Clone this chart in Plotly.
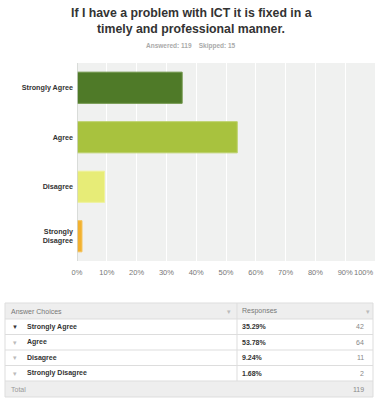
import plotly.graph_objects as go

categories = ["Strongly Agree", "Agree", "Disagree", "Strongly Disagree"]
axis_labels = ["Strongly Agree", "Agree", "Disagree", "Strongly<br>Disagree"]
percentages = [35.29, 53.78, 9.24, 1.68]
counts = [42, 64, 11, 2]
answered = 119
skipped = 15
total = 119
tick_vals = [0, 10, 20, 30, 40, 50, 60, 70, 80, 90]
tick_text = [f"{v}%" for v in tick_vals]
last_tick = 100
title_lines = ["If I have a problem with ICT it is fixed in a", "timely and professional manner."]
colors = ["#4F7A28", "#A8C23E", "#E7EC77", "#F2B12F"]
border = ["#6E9447", "#BCD16A", "#EFF29C", "#F5C561"]

W, H = 375, 399
def px(x): return x / W
def py(y): return 1 - y / H

fig = go.Figure()
fig.add_trace(go.Bar(
    x=percentages, y=axis_labels, orientation="h",
    marker=dict(color=colors, line=dict(color=border, width=1)),
    width=0.63, hoverinfo="skip"))

FONT = "Liberation Sans, Arial, sans-serif"

fig.update_layout(
    width=W, height=H, margin=dict(l=0, r=0, t=0, b=0, pad=0),
    paper_bgcolor="white", plot_bgcolor="#F0F1F0",
    showlegend=False, font=dict(family=FONT),
    xaxis=dict(domain=[px(77), 1], range=[0, 100], tickvals=tick_vals,
               ticktext=tick_text, showgrid=True, gridcolor="white", gridwidth=1,
               zeroline=False, showline=False, ticks="", automargin=False,
               ticklabelstandoff=5,
               tickfont=dict(size=7.5, color="#777", family=FONT), fixedrange=True),
    yaxis=dict(domain=[py(261), py(63)], autorange="reversed",
               tickvals=axis_labels, ticktext=[f"<b>{t}</b>" for t in axis_labels],
               showgrid=False, zeroline=False, showline=False, ticks="", automargin=False,
               tickfont=dict(size=7.2, color="#333", family=FONT),
               ticklabelstandoff=3, fixedrange=True),
)
fig.add_shape(type="line", xref="x", yref="paper", x0=0, x1=0,
              y0=py(261), y1=py(63), line=dict(color="#D2D4D2", width=1.5))

ann = []
ann.append(dict(x=last_tick, y=py(272), xref="x", yref="paper", text=f"{last_tick}%",
                showarrow=False, font=dict(size=7.5, color="#777", family=FONT),
                xanchor="right", yanchor="middle", xshift=1))
for ln, yy in zip(title_lines, [13, 29]):
    ann.append(dict(x=px(191), y=py(yy), xref="paper", yref="paper",
                    text=f"<b>{ln}</b>", showarrow=False,
                    font=dict(size=12.3, color="#333", family=FONT),
                    xanchor="center", yanchor="middle"))
ann.append(dict(x=px(191), y=py(46), xref="paper", yref="paper",
                text=f"<b>Answered: {answered}    Skipped: {skipped}</b>",
                showarrow=False, font=dict(size=6.5, color="#AAA", family=FONT),
                xanchor="center", yanchor="middle"))

# table
tx0, tx1, tdiv = 5, 373, 237
ty_head0, ty_head1 = 303, 319
row_h = 15.5
shapes = []
shapes.append(dict(type="rect", xref="paper", yref="paper", x0=px(tx0), x1=px(tx1),
                   y0=py(ty_head0), y1=py(ty_head1), fillcolor="#EEEEEE",
                   line=dict(width=0), layer="below"))
n = len(categories)
ty_tot0 = ty_head1 + row_h * n
ty_tot1 = ty_tot0 + 16
shapes.append(dict(type="rect", xref="paper", yref="paper", x0=px(tx0), x1=px(tx1),
                   y0=py(ty_tot0), y1=py(ty_tot1), fillcolor="#EEEEEE",
                   line=dict(width=0), layer="below"))
shapes.append(dict(type="rect", xref="paper", yref="paper", x0=px(tx0), x1=px(tx1),
                   y0=py(ty_head0), y1=py(ty_tot1), line=dict(color="#DDDDDD", width=1)))
shapes.append(dict(type="line", xref="paper", yref="paper", x0=px(tdiv), x1=px(tdiv),
                   y0=py(ty_head0), y1=py(ty_tot0), line=dict(color="#DDDDDD", width=1)))
for i in range(n + 1):
    yy = ty_head1 + row_h * i
    shapes.append(dict(type="line", xref="paper", yref="paper", x0=px(tx0), x1=px(tx1),
                       y0=py(yy), y1=py(yy), line=dict(color="#DDDDDD", width=1)))

PAD = 3
def txt(x, y, s, size=7, color="#333", anchor="left", bold=False):
    if bold:
        s = f"<b>{s}</b>"
    shift = -PAD if anchor == "left" else (PAD if anchor == "right" else 0)
    ann.append(dict(x=px(x), y=py(y), xref="paper", yref="paper", text=s,
                    showarrow=False, font=dict(size=size, color=color, family=FONT),
                    xanchor=anchor, yanchor="middle", xshift=shift))

hy = (ty_head0 + ty_head1) / 2
txt(12, hy, "Answer Choices", color="#777")
txt(229, hy, "▾", size=7, color="#BBB", anchor="center")
txt(243, hy, "Responses", color="#777")
txt(368, hy, "▾", size=7, color="#BBB", anchor="center")
for i, (c, p, k) in enumerate(zip(categories, percentages, counts)):
    yy = ty_head1 + row_h * i + row_h / 2
    txt(15, yy, "▼" if i == 0 else "▾", size=6 if i == 0 else 7,
        color="#333" if i == 0 else "#BBB", anchor="center")
    txt(28, yy, c, bold=True, color="#333")
    txt(243, yy, f"{p:.2f}%", bold=True, color="#333")
    txt(363, yy, str(k), color="#888", anchor="right")
ty = (ty_tot0 + ty_tot1) / 2
txt(12, ty, "Total", color="#999")
txt(363, ty, str(total), color="#888", anchor="right")

fig.update_layout(annotations=ann, shapes=fig.layout.shapes + tuple(shapes))
fig.write_html("out.html")
